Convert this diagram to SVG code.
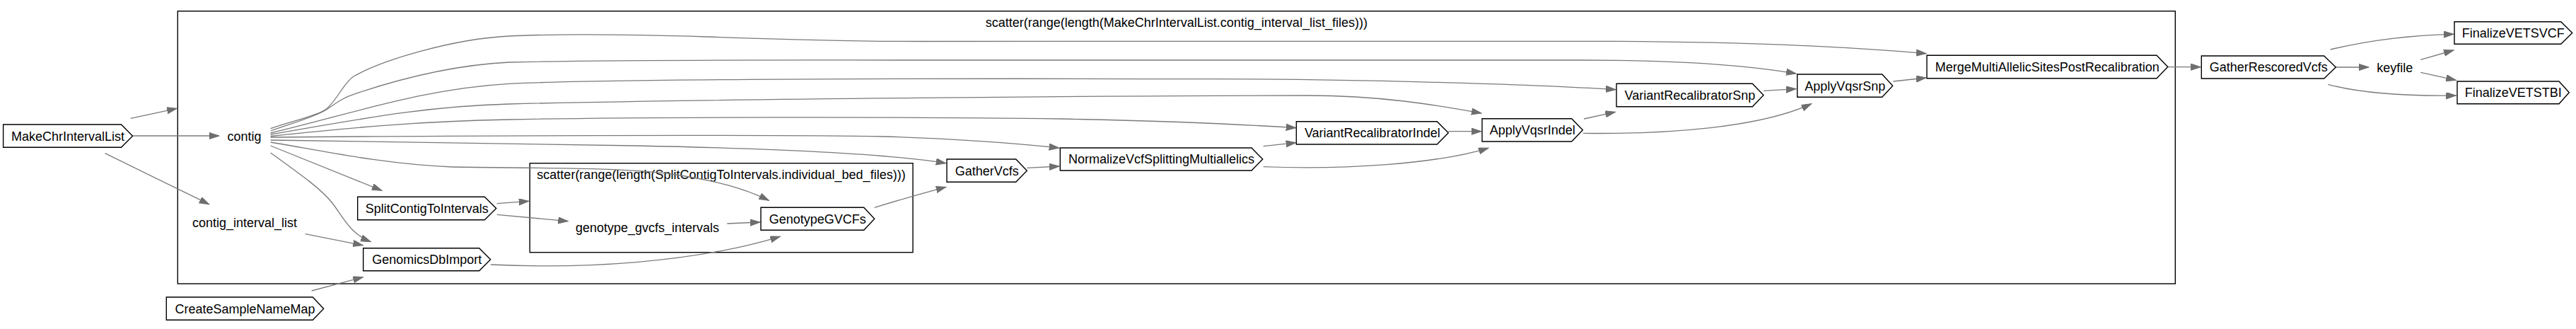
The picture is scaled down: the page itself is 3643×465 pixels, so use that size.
<svg xmlns="http://www.w3.org/2000/svg" width="3643" height="465" viewBox="0 0 3643 465">
<style>
.bg{fill:#ffffff}
.cl{fill:none;stroke:#000000;stroke-width:1.4}
.nd{fill:#ffffff;stroke:#000000;stroke-width:1.4}
.t{font-family:"Liberation Sans",Arial,Helvetica,sans-serif;font-size:18px;fill:#000000;text-anchor:middle}
.e{fill:none;stroke:#7a7a7a;stroke-width:1.3;marker-end:url(#ah)}
</style>
<defs>
<marker id="ah" markerWidth="16" markerHeight="11" refX="14" refY="4.6" orient="auto" markerUnits="userSpaceOnUse">
<path d="M0,0 L14,4.6 L0,9.2 z" fill="#6e6e6e" stroke="#6e6e6e" stroke-width="1"/>
</marker>
</defs>
<rect class="bg" x="0" y="0" width="3643" height="465"/>

<g id="cluster_outer">
<rect class="cl" x="251.3" y="15.7" width="2825" height="385.3"/>
<text class="t" x="1663.8" y="38.3">scatter(range(length(MakeChrIntervalList.contig_interval_list_files)))</text>
</g>
<g id="cluster_inner">
<rect class="cl" x="749.3" y="230.7" width="541.7" height="126"/>
<text class="t" x="1020" y="253.3">scatter(range(length(SplitContigToIntervals.individual_bed_files)))</text>
</g>

<g id="connectors">
<path class="e" d="M184.8,167.3 L250,153.3"/>
<path class="e" d="M187.5,192 L310,192"/>
<path class="e" d="M148.5,216.7 L295.7,288.7"/>
<path class="e" d="M431.7,330.7 L513.3,346.7"/>
<path class="e" d="M440.7,411 L513.3,391.7"/>
<path class="e" d="M382.7,206 L540,269.3"/>
<path class="e" d="M382.7,216 C430,250 455,268 470,287 C486,308 495,330 524.3,341.7"/>
<path class="e" d="M702.7,287.7 L747.7,284.3"/>
<path class="e" d="M702.7,303.3 L803.3,312.7"/>
<path class="e" d="M1028.3,316 L1075,314"/>
<path class="e" d="M694,374 C820,380 980,372 1103.3,334.3"/>
<path class="e" d="M1236.7,293.3 Q1290,277 1337.7,264.3"/>
<path class="e" d="M1452.3,237.3 L1498,235"/>
<path class="e" d="M1786.7,206.7 L1832.7,201.7"/>
<path class="e" d="M1786.7,235.7 C1900,240 2030,232 2105,209.3"/>
<path class="e" d="M2048.3,185.7 L2095,185.7"/>
<path class="e" d="M2240,168 L2284.3,158.3"/>
<path class="e" d="M2239,188.3 C2360,190 2490,180 2561.7,146.7"/>
<path class="e" d="M2494,128.3 L2540,125.7"/>
<path class="e" d="M2677.3,115 L2724,110"/>
<path class="e" d="M3065.7,94.7 L3112.3,94.7"/>
<path class="e" d="M3303.3,95 L3350,95"/>
<path class="e" d="M3423.3,84.3 L3470,71"/>
<path class="e" d="M3423.3,102.3 L3473.3,113.3"/>
<path class="e" d="M3295.7,70 C3345,58 3400,50 3470,48.3"/>
<path class="e" d="M3292.3,119.3 C3340,132 3400,136 3473.3,135"/>
<path class="e" d="M382.7,181.7 C415,170 445,165 460,155 C475,145 485,118 500,108 C540,85 640,55 720,51 C800,47 900,49 1000,52 C1100,55.5 1200,58.5 1300,58.5 L2240,58.3 C2450,58.3 2600,65 2724,75.7"/>
<path class="e" d="M382.7,185 C420,172 445,165 460,156 C475,146 485,138 500,133.3 C560,113 640,92 720,88 C900,84 1100,85 1300,85 L2240,85 C2380,85 2470,92 2540,104"/>
<path class="e" d="M382.7,188 C500,160 600,125 720,118.3 C900,110 1500,111 1720,111.7 C1900,112 2150,118 2285,126.7"/>
<path class="e" d="M382.7,190 C500,170 600,150 720,147 C1000,140 1600,135 1850,135 C1950,135 2030,148 2095,160"/>
<path class="e" d="M382.7,192.5 C500,180 600,171 720,169 C900,165 1300,165 1500,168 C1650,171 1760,176 1832.7,180.7"/>
<path class="e" d="M382.7,194 C600,192 1100,190 1250,193 C1350,196 1440,203 1497.7,209"/>
<path class="e" d="M382.7,198 C500,200 700,203 900,206 C1100,210 1260,218 1337.7,230.7"/>
<path class="e" d="M382.7,201 C450,212 540,232 640,236 C750,238 870,236 950,246 C1010,255 1050,265 1087.3,283.3"/>
</g>

<g id="MakeChrIntervalList">
<polygon class="nd" points="4.6,176 171.5,176 187.5,192.2 171.5,208.3 4.6,208.3"/>
<text class="t" x="96" y="198.5">MakeChrIntervalList</text>
</g>
<g id="contig">
<text class="t" x="345.5" y="199">contig</text>
</g>
<g id="contig_interval_list">
<text class="t" x="346" y="320.7">contig_interval_list</text>
</g>
<g id="CreateSampleNameMap">
<polygon class="nd" points="235.3,420 442.3,420 457.7,436.2 442.3,452.3 235.3,452.3"/>
<text class="t" x="346.5" y="442.5">CreateSampleNameMap</text>
</g>
<g id="SplitContigToIntervals">
<polygon class="nd" points="505.7,278.3 685.3,278.3 701.7,294.5 685.3,310.7 505.7,310.7"/>
<text class="t" x="603.7" y="300.8">SplitContigToIntervals</text>
</g>
<g id="GenomicsDbImport">
<polygon class="nd" points="513.7,350.7 677.7,350.7 693.7,366.7 677.7,382.7 513.7,382.7"/>
<text class="t" x="603.7" y="373">GenomicsDbImport</text>
</g>
<g id="genotype_gvcfs_intervals">
<text class="t" x="915.5" y="328.3">genotype_gvcfs_intervals</text>
</g>
<g id="GenotypeGVCFs">
<polygon class="nd" points="1076,293.3 1221.7,293.3 1236.7,309.3 1221.7,325.3 1076,325.3"/>
<text class="t" x="1156.3" y="315.6">GenotypeGVCFs</text>
</g>
<g id="GatherVcfs">
<polygon class="nd" points="1339,225 1436.7,225 1452.3,241.2 1436.7,257.3 1339,257.3"/>
<text class="t" x="1395.7" y="247.5">GatherVcfs</text>
</g>
<g id="NormalizeVcfSplittingMultiallelics">
<polygon class="nd" points="1499.3,209 1770,209 1785.7,225 1770,241 1499.3,241"/>
<text class="t" x="1642.5" y="231.3">NormalizeVcfSplittingMultiallelics</text>
</g>
<g id="VariantRecalibratorIndel">
<polygon class="nd" points="1833.3,171.7 2032.3,171.7 2048.3,187.8 2032.3,204 1833.3,204"/>
<text class="t" x="1940.8" y="194.1">VariantRecalibratorIndel</text>
</g>
<g id="ApplyVqsrIndel">
<polygon class="nd" points="2096,167.7 2222.7,167.7 2238.3,183.8 2222.7,200 2096,200"/>
<text class="t" x="2167.2" y="190.1">ApplyVqsrIndel</text>
</g>
<g id="VariantRecalibratorSnp">
<polygon class="nd" points="2286,118.3 2478.3,118.3 2494,134.5 2478.3,150.7 2286,150.7"/>
<text class="t" x="2390" y="140.8">VariantRecalibratorSnp</text>
</g>
<g id="ApplyVqsrSnp">
<polygon class="nd" points="2541.7,105 2661.7,105 2676.7,121.2 2661.7,137.3 2541.7,137.3"/>
<text class="t" x="2609.2" y="127.5">ApplyVqsrSnp</text>
</g>
<g id="MergeMultiAllelicSitesPostRecalibration">
<polygon class="nd" points="2725,78.3 3050,78.3 3065.7,94.5 3050,110.7 2725,110.7"/>
<text class="t" x="2895.3" y="100.8">MergeMultiAllelicSitesPostRecalibration</text>
</g>
<g id="GatherRescoredVcfs">
<polygon class="nd" points="3113.3,79 3286.7,79 3303.3,95 3286.7,111 3113.3,111"/>
<text class="t" x="3208.3" y="101.3">GatherRescoredVcfs</text>
</g>
<g id="keyfile">
<text class="t" x="3386.7" y="101.5">keyfile</text>
</g>
<g id="FinalizeVETSVCF">
<polygon class="nd" points="3471,30.7 3621.7,30.7 3637.7,46.5 3621.7,62.3 3471,62.3"/>
<text class="t" x="3554.3" y="52.8">FinalizeVETSVCF</text>
</g>
<g id="FinalizeVETSTBI">
<polygon class="nd" points="3475,115 3619,115 3633.3,130.8 3619,146.7 3475,146.7"/>
<text class="t" x="3554.2" y="137.1">FinalizeVETSTBI</text>
</g>
</svg>
